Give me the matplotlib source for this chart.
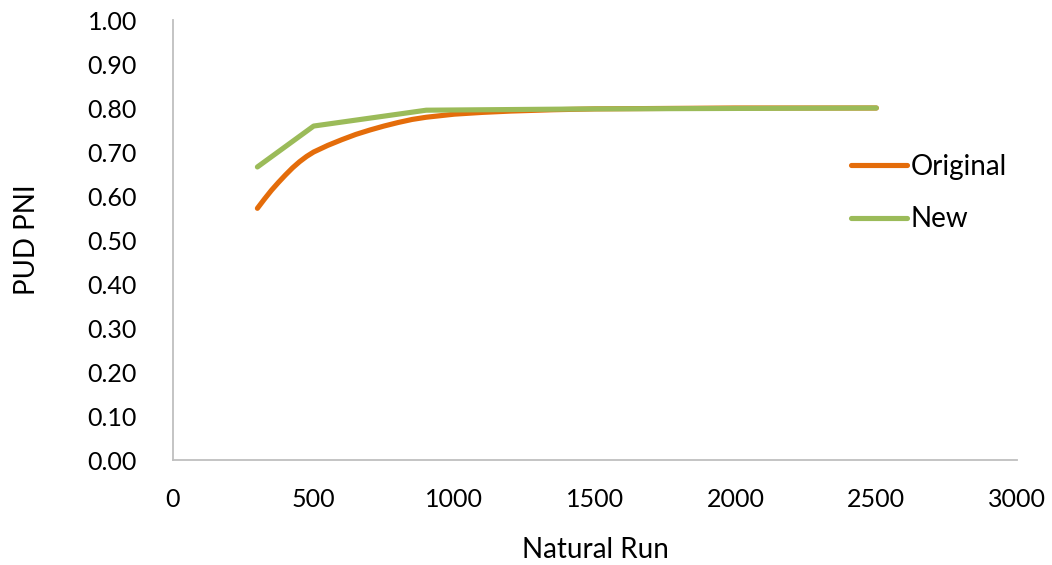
import matplotlib
matplotlib.use("Agg")
import matplotlib.pyplot as plt

plt.rcParams['font.family'] = ['Lato', 'DejaVu Sans']

orig_x = [300, 325, 350, 375, 400, 425, 450, 475, 500, 550, 600, 650, 700, 750, 800, 850, 900,
          1000, 1100, 1200, 1350, 1500, 2000, 2500]
orig_y = [0.572, 0.593, 0.613, 0.631, 0.648, 0.664, 0.678, 0.690, 0.700, 0.715, 0.728, 0.740, 0.750,
          0.759, 0.767, 0.774, 0.779, 0.786, 0.790, 0.793, 0.796, 0.798, 0.800, 0.800]
new_x = [300, 500, 900, 1500, 2000, 2500]
new_y = [0.666, 0.759, 0.795, 0.798, 0.799, 0.800]
x_ticks = [0, 500, 1000, 1500, 2000, 2500, 3000]
y_ticks = [0.0, 0.1, 0.2, 0.3, 0.4, 0.5, 0.6, 0.7, 0.8, 0.9, 1.0]

fig = plt.figure(figsize=(10.52, 5.65), dpi=100)
ax = fig.add_axes([173/1052, 1 - 460/565, (1017 - 173)/1052, (460 - 20)/565])

ax.plot(orig_x, orig_y, color='#E46C0A', lw=3.7, solid_capstyle='round', solid_joinstyle='round', label='Original')
ax.plot(new_x, new_y, color='#9BBB59', lw=3.7, solid_capstyle='round', solid_joinstyle='round', label='New')

ax.set_xlim(0, 3000)
ax.set_ylim(0, 1.0)
ax.set_xticks(x_ticks)
ax.set_yticks(y_ticks)
ax.set_yticklabels([f"{v:.2f}" for v in y_ticks])
ax.tick_params(axis='both', length=0, labelsize=18, colors='#000000')
ax.tick_params(axis='y', pad=26)
ax.tick_params(axis='x', pad=20)
for s in ['top', 'right']:
    ax.spines[s].set_visible(False)
for s in ['left', 'bottom']:
    ax.spines[s].set_color('#BFBFBF')
    ax.spines[s].set_linewidth(1.3)

ax.set_xlabel('Natural Run', fontsize=20, labelpad=19)
ax.set_ylabel('PUD PNI', fontsize=20, labelpad=34)

leg = ax.legend(loc='upper left', bbox_to_anchor=(851/1052, 1 - 154/565), bbox_transform=fig.transFigure,
                frameon=False, fontsize=20, handlelength=2.0, handletextpad=0.15,
                labelspacing=0.95, borderpad=0, borderaxespad=0)

fig.savefig('out.png', dpi=100)
